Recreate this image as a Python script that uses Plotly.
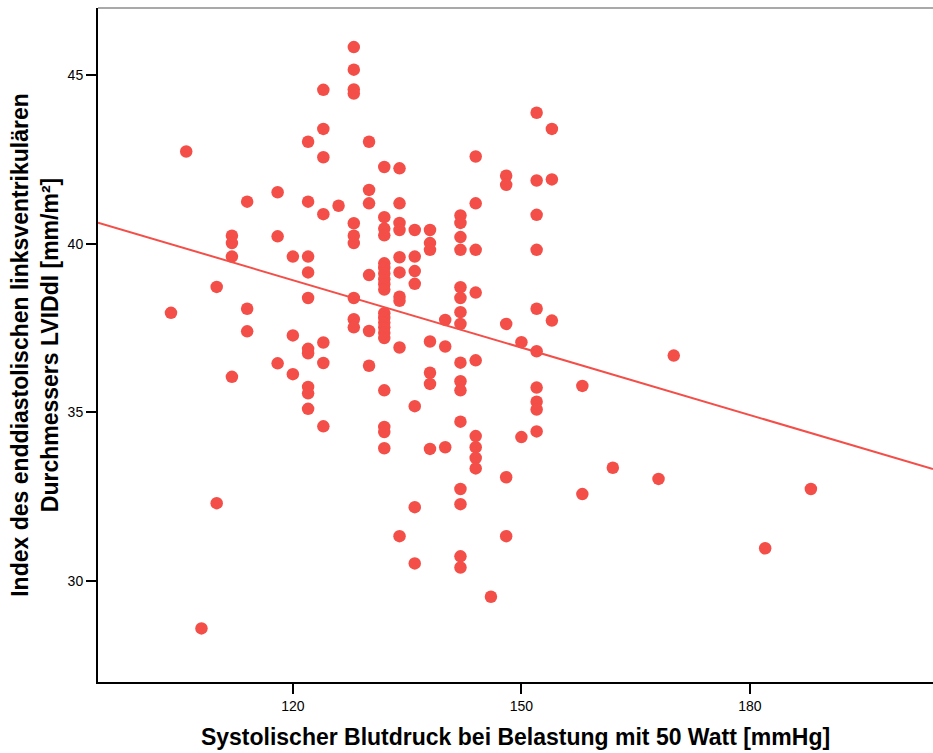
import numpy as np
import plotly.graph_objects as go

# Systolic blood pressure at 50 W load (mmHg) and the LVIDd index values (mm/m²)
# measured at each pressure level
bp_levels = [104, 106, 108, 110, 112, 114, 118, 120, 122, 124, 126, 128, 130, 132,
             134, 136, 138, 140, 142, 144, 146, 148, 150, 152, 154, 158, 162, 168,
             170, 182, 188]
lvidd_index = [
    [37.95],
    [42.74],
    [28.58],
    [38.72, 32.30],
    [40.24, 40.02, 39.62, 36.05],
    [41.25, 38.07, 37.40],
    [41.53, 40.22, 36.45],
    [39.62, 37.28, 36.13],
    [43.03, 41.25, 39.62, 39.15, 38.39, 36.88, 36.75, 35.75, 35.56, 35.10],
    [44.57, 43.41, 42.57, 40.88, 37.07, 36.46, 34.58],
    [41.13],
    [45.84, 45.17, 44.58, 44.46, 40.61, 40.24, 40.02, 38.39, 37.76, 37.52],
    [43.03, 41.60, 41.20, 39.07, 37.41, 36.38],
    [42.28, 40.79, 40.45, 40.25, 39.42, 39.28, 39.12, 38.95, 38.80, 38.64,
     37.94, 37.80, 37.66, 37.52, 37.36, 37.20, 35.65, 34.56, 34.41, 33.93],
    [42.24, 41.20, 40.62, 40.41, 39.60, 39.15, 38.43, 38.31, 36.92, 31.32],
    [40.41, 39.62, 39.19, 38.81, 35.18, 32.18, 30.51],
    [40.41, 40.02, 39.82, 37.10, 36.17, 35.84, 33.91],
    [37.74, 36.95, 33.96],
    [40.84, 40.62, 40.20, 39.82, 38.71, 38.39, 37.97, 37.62, 36.47, 35.92,
     35.65, 34.72, 32.72, 32.27, 30.72, 30.39],
    [42.59, 41.20, 39.82, 38.55, 36.54, 34.29, 33.96, 33.64, 33.33],
    [29.52],
    [42.02, 41.75, 37.62, 33.07, 31.32],
    [37.08, 34.26],
    [43.89, 41.88, 40.86, 39.82, 38.07, 36.81, 35.73, 35.31, 35.08, 34.43],
    [43.41, 41.91, 37.72],
    [35.78, 32.57],
    [33.35],
    [33.02],
    [36.68],
    [30.96],
    [32.72],
]

x_ticks = [120, 150, 180]
y_ticks = [30, 35, 40, 45]
x_title = "Systolischer Blutdruck bei Belastung mit 50 Watt [mmHg]"
y_title = "Index des enddiastolischen linksventrikulären<br>Durchmessers LVIDdI [mm/m²]"

x_range = [94.42, 204.03]
y_range = [26.99, 47.0]

red = "#F44E48"

xs = np.array([bp for bp, vals in zip(bp_levels, lvidd_index) for _ in vals], dtype=float)
ys = np.array([v for vals in lvidd_index for v in vals], dtype=float)

# Linear least-squares fit across the full x range
slope, intercept = np.polyfit(xs, ys, 1)
fit_x = np.array(x_range)
fit_y = intercept + slope * fit_x

fig = go.Figure()
fig.add_trace(go.Scatter(
    x=xs, y=ys, mode="markers",
    marker=dict(size=12.5, color=red, line=dict(width=0)),
    showlegend=False, hoverinfo="x+y",
))
fig.add_trace(go.Scatter(
    x=fit_x, y=fit_y, mode="lines",
    line=dict(color=red, width=2),
    showlegend=False, hoverinfo="skip",
))

title_font = dict(family="Liberation Sans Narrow, Arial Narrow, Liberation Sans, Arial",
                  size=23, color="black", weight="bold")
tick_font = dict(family="Liberation Sans, Arial", size=14, color="black")

fig.update_layout(
    width=933, height=753,
    margin=dict(l=98, r=0, t=8, b=71, pad=0),
    paper_bgcolor="white", plot_bgcolor="white",
    xaxis=dict(
        range=x_range, tickvals=x_ticks, ticks="outside", ticklen=10, tickwidth=1.5,
        tickcolor="black", showline=True, linecolor="black", linewidth=2,
        showgrid=False, zeroline=False, tickfont=tick_font,
        title=dict(text=x_title, font=title_font, standoff=16),
    ),
    yaxis=dict(
        range=y_range, tickvals=y_ticks, ticks="outside", ticklen=10, tickwidth=1.5,
        tickcolor="black", showline=True, linecolor="black", linewidth=2,
        showgrid=False, zeroline=False, tickfont=tick_font,
        title=dict(text=y_title, font=title_font, standoff=3),
    ),
    shapes=[dict(type="line", xref="paper", yref="paper", x0=0, x1=1, y0=1, y1=1,
                 line=dict(color="#555555", width=1.2))],
)

fig.write_html("out.html")
